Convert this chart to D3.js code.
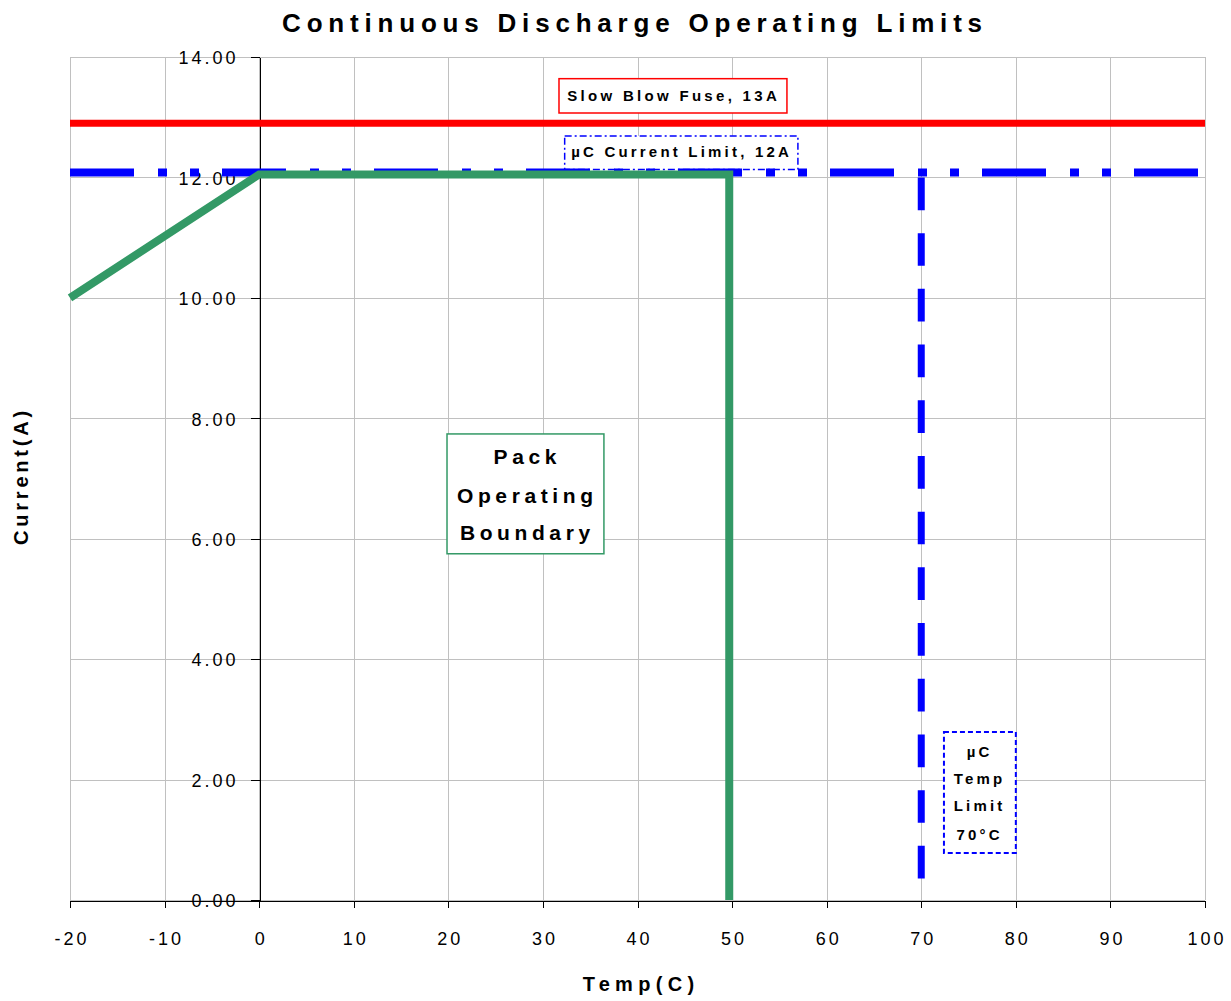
<!DOCTYPE html>
<html lang="en">
<head>
<meta charset="utf-8">
<title>Continuous Discharge Operating Limits</title>
<script src="https://cdn.jsdelivr.net/npm/d3@7"></script>
<style>
  body { margin: 0; background: #fff; }
  svg { display: block; font-family: "Liberation Sans", Arial, sans-serif; }
  .grid line { stroke: #c0c0c0; stroke-width: 1; }
  .axis path, .axis line { stroke: #000; stroke-width: 1; shape-rendering: crispEdges; }
  .axis text { font-size: 18px; letter-spacing: 3px; fill: #000; }
</style>
</head>
<body>
<svg id="chart"></svg>
<script>
// ticks
const tempTicks = [-20, -10, 0, 10, 20, 30, 40, 50, 60, 70, 80, 90, 100];
const currentTicks = [0, 2, 4, 6, 8, 10, 12, 14];

// series
const packTemp = [-20, 0, 49.7, 49.7];
const packCurrent = [10, 12.05, 12.05, 0];
const fuseTemp = [-20, 100];
const fuseCurrent = [12.9, 12.9];
const ucLimitTemp = [-20, 100];
const ucLimitCurrent = [12.08, 12.08];
const ucTempTemp = [70, 70];
const ucTempCurrent = [12, 0];

const width = 1231, height = 1001;

const svg = d3.select('#chart')
  .attr('width', width)
  .attr('height', height);

const x = d3.scaleLinear().domain([-20, 100]).range([70, 1205]);
const y = d3.scaleLinear().domain([0, 14]).range([900, 57]);

// gridlines
const grid = svg.append('g').attr('class', 'grid');
grid.selectAll('.v').data(tempTicks).enter().append('line')
  .attr('x1', d => Math.round(x(d)) + 0.5).attr('x2', d => Math.round(x(d)) + 0.5)
  .attr('y1', y(14)).attr('y2', y(0));
grid.selectAll('.h').data(currentTicks).enter().append('line')
  .attr('x1', x(-20)).attr('x2', x(100))
  .attr('y1', d => Math.round(y(d)) + 0.5).attr('y2', d => Math.round(y(d)) + 0.5);

// axes
svg.append('g')
  .attr('class', 'axis')
  .attr('transform', `translate(0,${Math.round(y(0)) + 0.5})`)
  .call(d3.axisBottom(x).tickValues(tempTicks).tickSize(7).tickSizeOuter(0).tickPadding(25)
    .tickFormat(d => String(d)))
  .selectAll('text').attr('dx', '1.5');

svg.append('g')
  .attr('class', 'axis')
  .attr('transform', `translate(${Math.round(x(0)) + 0.5},0)`)
  .call(d3.axisLeft(y).tickValues(currentTicks).tickSize(9).tickSizeOuter(0).tickPadding(12)
    .tickFormat(d3.format('.2f')))
  .selectAll('text').attr('dy', '0.38em');

// titles
svg.append('text')
  .attr('x', 635).attr('y', 32)
  .attr('text-anchor', 'middle')
  .style('font-size', '26px').style('font-weight', 'bold').style('letter-spacing', '5.8px')
  .text('Continuous Discharge Operating Limits');

svg.append('text')
  .attr('x', 641).attr('y', 991)
  .attr('text-anchor', 'middle')
  .style('font-size', '20px').style('font-weight', 'bold').style('letter-spacing', '5.3px')
  .text('Temp(C)');

svg.append('text')
  .attr('transform', 'translate(28,476) rotate(-90)')
  .attr('text-anchor', 'middle')
  .style('font-size', '20px').style('font-weight', 'bold').style('letter-spacing', '3.8px')
  .text('Current(A)');

// annotation boxes (data coordinates)
function box(t0, c0, t1, c1, stroke, dash, sw) {
  svg.append('rect')
    .attr('x', x(t0)).attr('y', y(c0))
    .attr('width', x(t1) - x(t0)).attr('height', y(c1) - y(c0))
    .attr('fill', '#fff').attr('stroke', stroke)
    .attr('stroke-width', sw).attr('stroke-dasharray', dash);
}
function label(lines, cx, ys, size, spacing) {
  lines.forEach((l, i) => {
    svg.append('text')
      .attr('x', cx + spacing / 2).attr('y', ys[i])
      .attr('text-anchor', 'middle')
      .style('font-size', size + 'px').style('font-weight', 'bold').style('letter-spacing', spacing + 'px')
      .text(l);
  });
}

box(31.7, 13.64, 55.8, 13.07, '#ff0000', null, 1.5);
label(['Slow Blow Fuse, 13A'], 672, [101], 15, 3.3);

box(32.3, 12.69, 56.96, 12.13, '#0000ff', '7,3,2,3', 1.5);
label(['µC Current Limit, 12A'], 680, [157], 15, 3.2);

box(19.86, 7.74, 36.45, 5.75, '#339966', null, 1.5);
label(['Pack', 'Operating', 'Boundary'], 525, [464, 503, 540], 21, 4.6);

box(72.4, 2.79, 80.0, 0.78, '#0000ff', '5,3', 2);
label(['µC', 'Temp', 'Limit', '70°C'], 978, [757, 784, 811, 840], 15, 3.2);

// series lines
const line = d3.line().x(d => x(d[0])).y(d => y(d[1]));

svg.append('path')
  .datum(d3.zip(fuseTemp, fuseCurrent))
  .attr('d', line)
  .attr('fill', 'none').attr('stroke', '#ff0000').attr('stroke-width', 7);

svg.append('path')
  .datum(d3.zip(ucLimitTemp, ucLimitCurrent))
  .attr('d', line)
  .attr('fill', 'none').attr('stroke', '#0000ff').attr('stroke-width', 8)
  .attr('stroke-dasharray', '64,24,9,23,9,23');

svg.append('path')
  .datum(d3.zip(ucTempTemp, ucTempCurrent))
  .attr('d', line)
  .attr('fill', 'none').attr('stroke', '#0000ff').attr('stroke-width', 7)
  .attr('stroke-dasharray', '32.7,23');

svg.append('path')
  .datum(d3.zip(packTemp, packCurrent))
  .attr('d', line)
  .attr('fill', 'none').attr('stroke', '#339966').attr('stroke-width', 8)
  .attr('stroke-linejoin', 'miter');
</script>
</body>
</html>
